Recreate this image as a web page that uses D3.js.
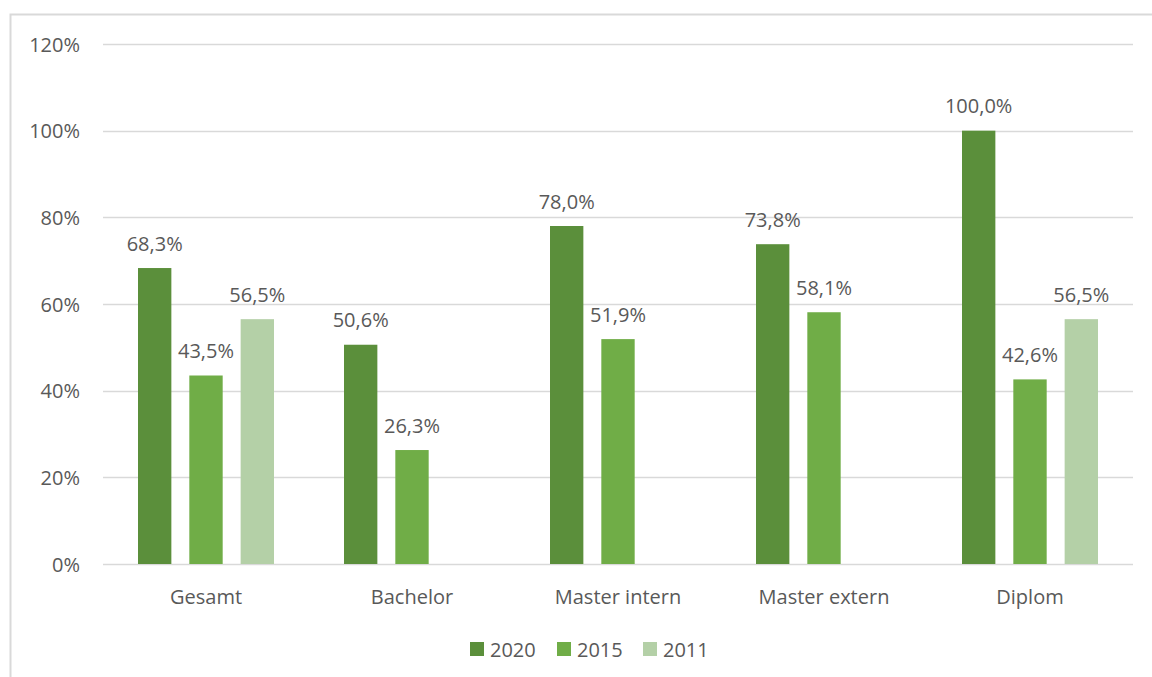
<!DOCTYPE html>
<html>
<head>
<meta charset="utf-8">
<script src="https://cdn.jsdelivr.net/npm/d3@7"></script>
<style>
  html, body { margin: 0; padding: 0; background: #fff; }
  svg { display: block; }
  text { font-family: "Open Sans", "Noto Sans", "Liberation Sans", sans-serif; fill: #595959; }
</style>
</head>
<body>
<svg id="chart" width="1152" height="677"></svg>
<script>
// Categories, series and values
const categories = ["Gesamt", "Bachelor", "Master intern", "Master extern", "Diplom"];
const seriesNames = ["2020", "2015", "2011"];
const values2020 = [68.3, 50.6, 78.0, 73.8, 100.0];
const values2015 = [43.5, 26.3, 51.9, 58.1, 42.6];
const values2011 = [56.5, null, null, null, 56.5];
const yTicks = [0, 20, 40, 60, 80, 100, 120];
const seriesColors = ["#5b8f3b", "#70ad47", "#b4d0a7"];

const seriesValues = [values2020, values2015, values2011];
const fontSize = 20;

const svg = d3.select("#chart");

// outer frame
svg.append("rect")
  .attr("x", 10.5).attr("y", 14.5)
  .attr("width", 1160).attr("height", 680)
  .attr("fill", "none").attr("stroke", "#d9d9d9").attr("stroke-width", 2);

const plot = { left: 103, right: 1133, top: 44, bottom: 564 };

const y = d3.scaleLinear().domain([0, 120]).range([plot.bottom, plot.top]);
const x0 = d3.scaleBand().domain(categories).range([plot.left, plot.right]);
const groupPad = 35;
const x1 = d3.scaleBand().domain(seriesNames)
  .range([groupPad, x0.bandwidth() - groupPad]).paddingInner(0.35);

// gridlines
svg.append("g").selectAll("line").data(yTicks).join("line")
  .attr("x1", plot.left).attr("x2", plot.right)
  .attr("y1", d => Math.round(y(d)) + 0.5).attr("y2", d => Math.round(y(d)) + 0.5)
  .attr("stroke", "#d9d9d9").attr("stroke-width", 1.5);

// y axis labels
svg.append("g").selectAll("text").data(yTicks).join("text")
  .attr("x", 80).attr("y", d => y(d))
  .attr("text-anchor", "end").attr("dominant-baseline", "central")
  .attr("font-size", fontSize)
  .text(d => d + "%");

// category labels
svg.append("g").selectAll("text").data(categories).join("text")
  .attr("x", d => x0(d) + x0.bandwidth() / 2).attr("y", 596)
  .attr("text-anchor", "middle").attr("dominant-baseline", "central")
  .attr("font-size", fontSize)
  .text(d => d);

// bars and value labels
const fmt = v => v.toFixed(1).replace(".", ",") + "%";
const barData = [];
categories.forEach((c, i) => {
  seriesNames.forEach((s, j) => {
    const v = seriesValues[j][i];
    if (v != null) barData.push({ cat: c, series: s, value: v, color: seriesColors[j] });
  });
});

const gBars = svg.append("g");
gBars.selectAll("rect").data(barData).join("rect")
  .attr("x", d => x0(d.cat) + x1(d.series))
  .attr("y", d => y(d.value))
  .attr("width", x1.bandwidth())
  .attr("height", d => y(0) - y(d.value))
  .attr("fill", d => d.color);

gBars.selectAll("text").data(barData).join("text")
  .attr("x", d => x0(d.cat) + x1(d.series) + x1.bandwidth() / 2)
  .attr("y", d => y(d.value) - 25)
  .attr("text-anchor", "middle").attr("dominant-baseline", "central")
  .attr("font-size", fontSize)
  .text(d => fmt(d.value));

// legend
const legendX = [470, 557, 643];
const legend = svg.append("g").selectAll("g").data(seriesNames).join("g")
  .attr("transform", (d, i) => `translate(${legendX[i]},649)`);
legend.append("rect")
  .attr("x", 0).attr("y", -7).attr("width", 14).attr("height", 14)
  .attr("fill", (d, i) => seriesColors[i]);
legend.append("text")
  .attr("x", 20).attr("y", 0)
  .attr("dominant-baseline", "central")
  .attr("font-size", fontSize)
  .text(d => d);
</script>
</body>
</html>
